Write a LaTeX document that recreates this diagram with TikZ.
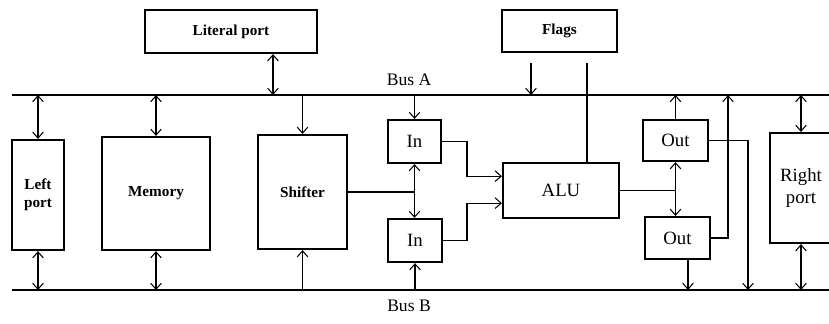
\documentclass[tikz,border=0pt]{standalone}
\usepackage{fontspec}
\setmainfont{Liberation Serif}
\usetikzlibrary{arrows.meta, positioning}

\tikzset{
  block/.style={draw, line width=1.9pt, inner sep=0pt, align=center},
  blocksz/.style 2 args={minimum width=#1*0.3mm, minimum height=#2*0.3mm},
  boldlbl/.style={font=\fontsize{13}{15}\selectfont\bfseries},
  plainlbl/.style={font=\fontsize{16}{18}\selectfont},
  buslbl/.style={font=\fontsize{15}{17}\selectfont},
  bus/.style={line width=1.5pt},
  link/.style={line width=0.9pt, >={Straight Barb[length=1.8mm,width=3.2mm]}},
}

\begin{document}
\begin{tikzpicture}[x=0.3mm, y=-0.3mm]
  \useasboundingbox (0,0) rectangle (829,323);
  \clip (0,0) rectangle (829,323);

  % buses
  \coordinate (busA) at (12,95);
  \coordinate (busAe) at (835,95);
  \coordinate (busB) at (12,290);
  \coordinate (busBe) at (835,290);
  \draw[bus] (busA) -- (busAe);
  \draw[bus] (busB) -- (busBe);
  \node[buslbl] (busAlbl) at (409,80) {Bus A};
  \node[buslbl] (busBlbl) at (409,306) {Bus B};

  % blocks
  \node[block, boldlbl, blocksz={172}{43}] (lit) at (231,31.5) {Literal port};
  \node[block, boldlbl, blocksz={115}{42}] (flags) at (559.5,31) {Flags};
  \node[block, boldlbl, blocksz={52}{110}] (left) at (38,195) {Left\\port};
  \node[block, boldlbl, blocksz={108}{113}] (mem) at (156,193.5) {Memory};
  \node[block, boldlbl, blocksz={89}{114}] (shift) at (302.5,192) {Shifter};
  \node[block, plainlbl, blocksz={53}{43}] (in1) at (414.5,141.5) {In};
  \node[block, plainlbl, blocksz={54}{43}] (in2) at (415,240.5) {In};
  \node[block, plainlbl, blocksz={116}{55}] (alu) at (561,190.5) {ALU};
  \node[block, plainlbl, blocksz={65}{41}] (out1) at (675.5,140.5) {Out};
  \node[block, plainlbl, blocksz={65}{42}] (out2) at (677.5,238) {Out};
  \node[block, plainlbl, blocksz={62}{110}] (right) at (801,188) {Right\\port};

  % helper points
  \coordinate (litx) at (273,0);
  \coordinate (flin) at (531,63);
  \coordinate (flout) at (587,63);
  \coordinate (inj) at (467,0);
  \coordinate (o1j) at (748,0);
  \coordinate (o2j) at (728,0);
  \coordinate (o2x) at (688,0);
  \coordinate (aluA) at ([yshift=4.3mm]alu.west);
  \coordinate (aluB) at ([yshift=-3.8mm]alu.west);

  % connectors
  \draw[link, <->] (lit.south -| litx) -- (litx |- busA);
  \draw[link, ->] (flin) -- (flin |- busA);
  \draw[link] (flout) -- (flout |- alu.north);
  \draw[link, <->] (left.north) -- (left.north |- busA);
  \draw[link, <->] (left.south) -- (left.south |- busB);
  \draw[link, <->] (mem.north) -- (mem.north |- busA);
  \draw[link, <->] (mem.south) -- (mem.south |- busB);
  \draw[link, ->] (shift.north |- busA) -- (shift.north);
  \draw[link, ->] (shift.south |- busB) -- (shift.south);
  \draw[link] (shift.east) -- (shift.east -| in1.south);
  \draw[link, ->] (in1.north |- busA) -- (in1.north);
  \draw[link, <->] (in1.south) -- (in1.south |- in2.north);
  \draw[link, ->] (in2.south |- busB) -- (in2.south);
  \draw[link, ->] (in1.east) -- (in1.east -| inj) -- (inj |- aluA) -- (aluA);
  \draw[link, ->] (in2.east) -- (in2.east -| inj) -- (inj |- aluB) -- (aluB);
  \draw[link] (alu.east) -- (alu.east -| out1.south);
  \draw[link, <->] (out1.south) -- (out1.south |- out2.north);
  \draw[link, ->] (out1.north) -- (out1.north |- busA);
  \draw[link, ->] (out2.south -| o2x) -- (o2x |- busB);
  \draw[link, ->] (out1.east) -- (out1.east -| o1j) -- (o1j |- busB);
  \draw[link, ->] (out2.east) -- (out2.east -| o2j) -- (o2j |- busA);
  \draw[link, <->] (right.north) -- (right.north |- busA);
  \draw[link, <->] (right.south) -- (right.south |- busB);
\end{tikzpicture}
\end{document}
